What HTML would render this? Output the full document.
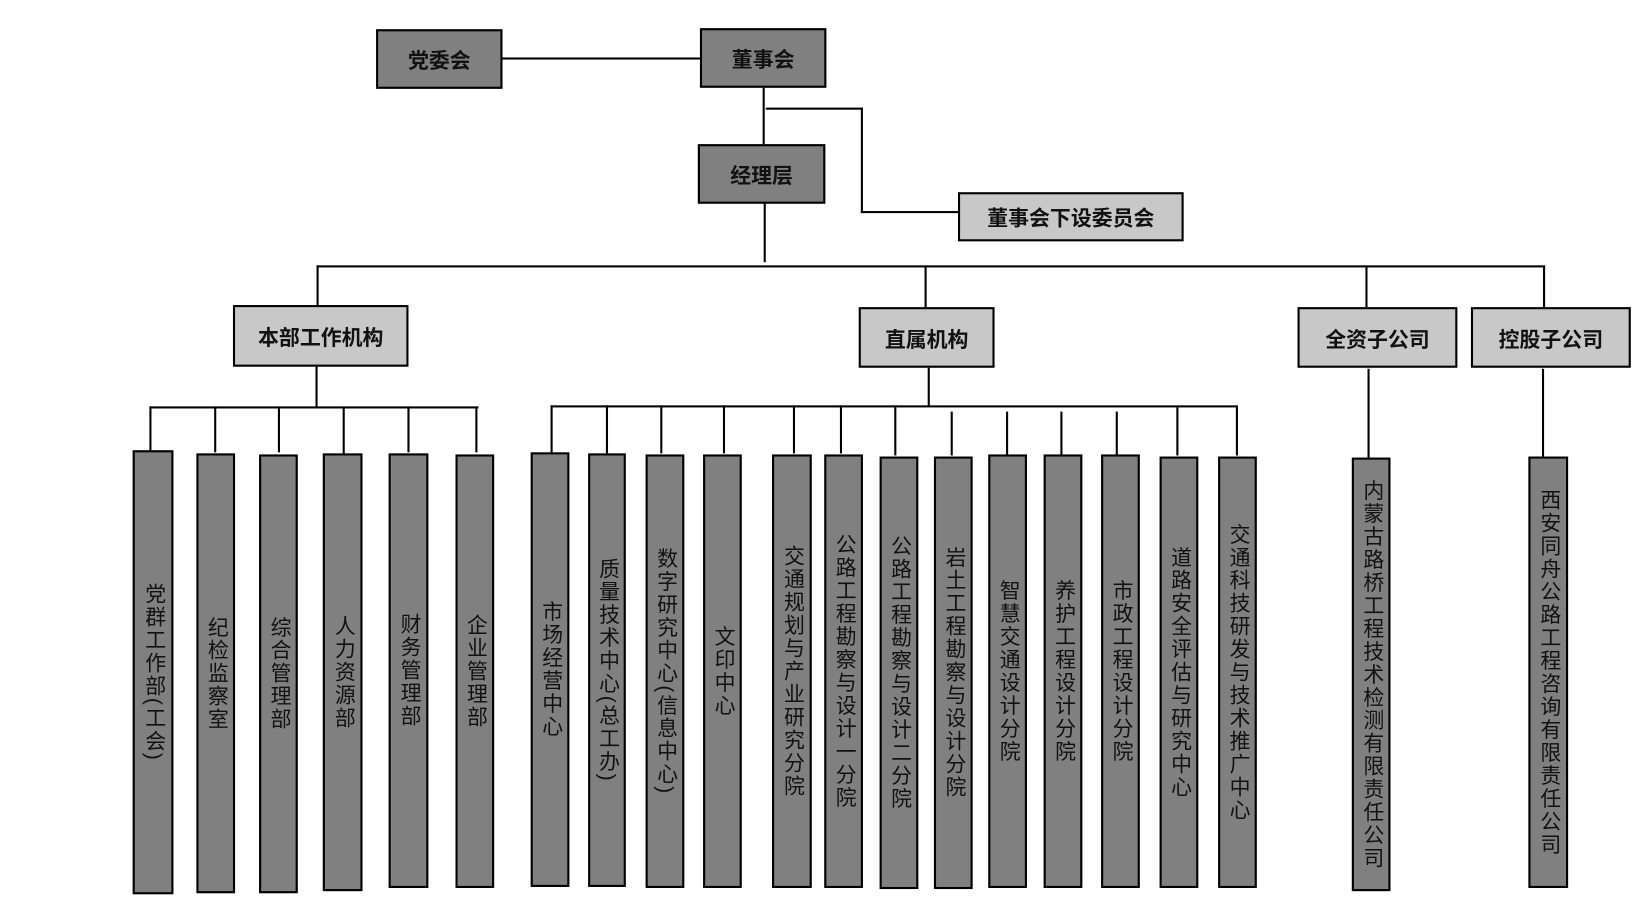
<!DOCTYPE html>
<html><head><meta charset="utf-8"><style>
html,body{margin:0;padding:0;background:#fff;width:1635px;height:903px;overflow:hidden}
#c{position:absolute;left:0;top:0;width:1565px;height:864px;transform:scale(1.0447);transform-origin:0 0;font-family:"Liberation Sans","Noto Sans CJK SC",sans-serif}
.b{position:absolute;box-sizing:border-box;border:2px solid #000;background:#808080;display:flex;align-items:center;justify-content:center;color:#111;font-size:20px;font-weight:bold}
.l{background:#c8c8c8}
.v{font-weight:normal;font-size:20px;writing-mode:vertical-rl;line-height:1;letter-spacing:2px}
.h{position:absolute;height:2px;background:#000}
.w{position:absolute;width:2px;background:#000}
</style></head><body><div id="c">
<div class="b" style="left:360px;top:28px;width:121px;height:57px">党委会</div>
<div class="b" style="left:670px;top:27px;width:121px;height:57px">董事会</div>
<div class="b" style="left:668px;top:138px;width:122px;height:57px">经理层</div>
<div class="b l" style="left:917px;top:184px;width:216px;height:47px">董事会下设委员会</div>
<div class="h" style="left:480px;top:55px;width:190px"></div>
<div class="w" style="left:730px;top:84px;height:54px"></div>
<div class="h" style="left:733px;top:103px;width:93px"></div>
<div class="w" style="left:824px;top:103px;height:101px"></div>
<div class="h" style="left:824px;top:202px;width:93px"></div>
<div class="w" style="left:731px;top:195px;height:56px"></div>
<div class="h" style="left:303px;top:254px;width:1176px"></div>
<div class="w" style="left:303px;top:254px;height:38px"></div>
<div class="w" style="left:885px;top:254px;height:40px"></div>
<div class="w" style="left:1307px;top:254px;height:40px"></div>
<div class="w" style="left:1477px;top:254px;height:40px"></div>
<div class="b l" style="left:223px;top:292px;width:168px;height:59px">本部工作机构</div>
<div class="b l" style="left:822px;top:294px;width:130px;height:58px">直属机构</div>
<div class="b l" style="left:1242px;top:294px;width:153px;height:58px">全资子公司</div>
<div class="b l" style="left:1408px;top:294px;width:153px;height:58px">控股子公司</div>
<div class="w" style="left:302px;top:351px;height:39px"></div>
<div class="h" style="left:143px;top:389px;width:315px"></div>
<div class="w" style="left:143px;top:389px;height:43px"></div>
<div class="w" style="left:205px;top:389px;height:44px"></div>
<div class="w" style="left:266px;top:389px;height:44px"></div>
<div class="w" style="left:328px;top:389px;height:45px"></div>
<div class="w" style="left:390px;top:389px;height:44px"></div>
<div class="w" style="left:455px;top:389px;height:44px"></div>
<div class="b v" style="left:127px;top:431px;width:39px;height:425px">党群工作部(工会)</div>
<div class="b v" style="left:188px;top:434px;width:37px;height:421px">纪检监察室</div>
<div class="b v" style="left:248px;top:435px;width:37px;height:420px">综合管理部</div>
<div class="b v" style="left:309px;top:434px;width:38px;height:419px">人力资源部</div>
<div class="b v" style="left:372px;top:434px;width:38px;height:416px">财务管理部</div>
<div class="b v" style="left:436px;top:435px;width:37px;height:415px">企业管理部</div>
<div class="w" style="left:888px;top:352px;height:37px"></div>
<div class="h" style="left:527px;top:388px;width:658px"></div>
<div class="w" style="left:527px;top:388px;height:45px"></div>
<div class="w" style="left:580px;top:388px;height:46px"></div>
<div class="w" style="left:632px;top:388px;height:46px"></div>
<div class="w" style="left:692px;top:388px;height:46px"></div>
<div class="w" style="left:759px;top:388px;height:46px"></div>
<div class="w" style="left:804px;top:388px;height:46px"></div>
<div class="w" style="left:856px;top:388px;height:48px"></div>
<div class="w" style="left:910px;top:394px;height:42px"></div>
<div class="w" style="left:963px;top:394px;height:42px"></div>
<div class="w" style="left:1015px;top:394px;height:42px"></div>
<div class="w" style="left:1068px;top:394px;height:42px"></div>
<div class="w" style="left:1126px;top:390px;height:46px"></div>
<div class="w" style="left:1183px;top:390px;height:46px"></div>
<div class="b v" style="left:508px;top:433px;width:37px;height:416px">市场经营中心</div>
<div class="b v" style="left:563px;top:434px;width:36px;height:415px">质量技术中心(总工办)</div>
<div class="b v" style="left:618px;top:435px;width:37px;height:415px">数字研究中心(信息中心)</div>
<div class="b v" style="left:673px;top:435px;width:37px;height:415px">文印中心</div>
<div class="b v" style="left:739px;top:435px;width:38px;height:415px">交通规划与产业研究分院</div>
<div class="b v" style="left:789px;top:435px;width:37px;height:415px">公路工程勘察与设计一分院</div>
<div class="b v" style="left:842px;top:437px;width:37px;height:414px">公路工程勘察与设计二分院</div>
<div class="b v" style="left:894px;top:437px;width:37px;height:414px">岩土工程勘察与设计分院</div>
<div class="b v" style="left:946px;top:435px;width:37px;height:415px">智慧交通设计分院</div>
<div class="b v" style="left:999px;top:435px;width:37px;height:415px">养护工程设计分院</div>
<div class="b v" style="left:1054px;top:435px;width:37px;height:415px">市政工程设计分院</div>
<div class="b v" style="left:1110px;top:437px;width:37px;height:413px">道路安全评估与研究中心</div>
<div class="b v" style="left:1166px;top:437px;width:37px;height:413px">交通科技研发与技术推广中心</div>
<div class="w" style="left:1309px;top:353px;height:85px"></div>
<div class="b v" style="left:1294px;top:438px;width:37px;height:415px">内蒙古路桥工程技术检测有限责任公司</div>
<div class="w" style="left:1476px;top:353px;height:84px"></div>
<div class="b v" style="left:1463px;top:437px;width:38px;height:413px">西安同舟公路工程咨询有限责任公司</div>
</div></body></html>
